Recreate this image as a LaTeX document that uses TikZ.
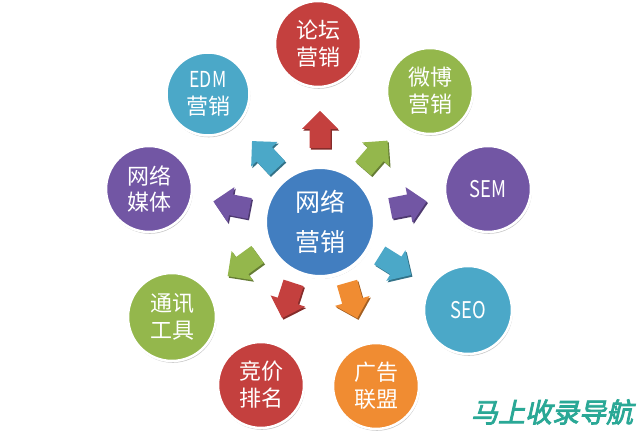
\documentclass[tikz,border=0pt]{standalone}
\usepackage{fontspec}
\newfontfamily\cjk{Noto Sans CJK SC}
\newfontfamily\cjkn[FakeStretch=0.8]{Noto Sans CJK SC}
\newfontfamily\wmfont[FakeSlant=0.22,FakeBold=3]{Noto Sans CJK SC}
\usetikzlibrary{shadows}
\definecolor{cred}{HTML}{C4403E}
\definecolor{cteal}{HTML}{4BA8C8}
\definecolor{cgreen}{HTML}{94B74C}
\definecolor{cpurple}{HTML}{7256A4}
\definecolor{cblue}{HTML}{427EC0}
\definecolor{corange}{HTML}{F08C32}
\definecolor{cwm}{HTML}{2AA896}
\newcommand\blockarr[4]{%
  \begin{scope}[shift={(#2,#3)},rotate=#4]
    \fill[#1, drop shadow={shadow xshift=1.3pt, shadow yshift=-1.6pt, opacity=1, fill=#1!68!black}]
      (-18,-10.5) -- (1,-10.5) -- (1,-18) -- (19,0) -- (1,18) -- (1,10.5) -- (-18,10.5) -- cycle;
  \end{scope}}
\begin{document}
\begin{tikzpicture}[x=1pt,y=-1pt,
  bubble/.style={circle, draw=white, line width=2.5pt, text=white, align=center,
    inner sep=0pt, minimum size=86pt, fill=#1,
    font=\cjk\fontsize{22}{27}\selectfont,
    drop shadow={shadow xshift=0.8pt, shadow yshift=-1.8pt, opacity=0.22, fill=black}},
]
\fill[white] (0,0) rectangle (640,435);
\useasboundingbox (0,0) rectangle (640,435);

% arrows
\blockarr{cred}{320}{130}{90}
\blockarr{cteal}{265}{155}{133}
\blockarr{cgreen}{375}{155}{49}
\blockarr{cpurple}{232}{205}{169}
\blockarr{cpurple}{408}{205}{11}
\blockarr{cgreen}{243}{265}{216}
\blockarr{cteal}{395}{265}{-32}
\blockarr{cred}{288}{300}{252}
\blockarr{corange}{352}{300}{-74}

% centre
\node[bubble=cblue, minimum size=110pt, line width=4pt,
      font=\cjk\fontsize{25}{40}\selectfont] (center) at (320,222) {网络\\营销};

% outer circles
\node[bubble=cred]    (forum) at (318,44)  {论坛\\营销};
\node[bubble=cgreen]  (weibo) at (430,91)  {微博\\营销};
\node[bubble=cpurple, font=\cjkn\fontsize{23}{27}\selectfont] (sem) at (488,189) {SEM};
\node[bubble=cteal, minimum size=88pt, font=\cjkn\fontsize{23}{27}\selectfont] (seo) at (468,310) {SEO};
\node[bubble=corange] (ad)    at (376,386) {广告\\联盟};
\node[bubble=cred]    (bid)   at (261,385) {竞价\\排名};
\node[bubble=cgreen, minimum size=88pt] (im) at (172,317) {通讯\\工具};
\node[bubble=cpurple] (media) at (149,189) {网络\\媒体};
\node[bubble=cteal, minimum size=83pt] (edm) at (208,94) {{\cjkn EDM}\\营销};

% watermark
\node[text=cwm, font=\wmfont\fontsize{27}{30}\selectfont, inner sep=0pt] (wm) at (552,412) {马上收录导航};
\end{tikzpicture}
\end{document}
